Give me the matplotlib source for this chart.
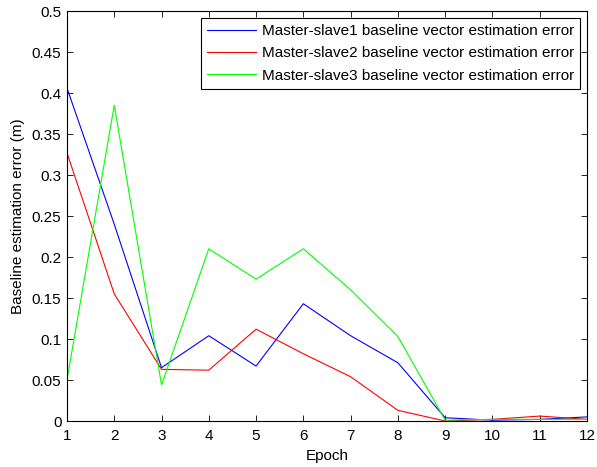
import matplotlib
matplotlib.use("Agg")
import matplotlib.pyplot as plt
import numpy as np

plt.rcParams['font.family'] = ['Liberation Sans', 'DejaVu Sans']

epochs = [1, 2, 3, 4, 5, 6, 7, 8, 9, 10, 11, 12]
slave1 = [0.406, 0.240, 0.065, 0.104, 0.067, 0.143, 0.104, 0.071, 0.004, 0.001, 0.002, 0.005]
slave2 = [0.327, 0.155, 0.063, 0.062, 0.112, 0.082, 0.054, 0.013, 0.000, 0.002, 0.006, 0.002]
slave3 = [0.050, 0.385, 0.044, 0.210, 0.173, 0.210, 0.160, 0.103, 0.001, 0.002, 0.002, 0.002]
labels = ['Master-slave1 baseline vector estimation error',
          'Master-slave2 baseline vector estimation error',
          'Master-slave3 baseline vector estimation error']
yticks = [0, 0.05, 0.1, 0.15, 0.2, 0.25, 0.3, 0.35, 0.4, 0.45, 0.5]
yticklabels = ['0', '0.05', '0.1', '0.15', '0.2', '0.25', '0.3', '0.35', '0.4', '0.45', '0.5']

fs = 11
fig = plt.figure(figsize=(5.97, 4.67), dpi=100)
ax = fig.add_axes([0.1122, 0.0985, 0.871, 0.8779])
ax.plot(epochs, slave1, color=(0, 0, 1), lw=0.8, label=labels[0])
ax.plot(epochs, slave2, color=(1, 0, 0), lw=0.8, label=labels[1])
ax.plot(epochs, slave3, color=(0, 1, 0), lw=0.8, label=labels[2])

ax.set_xlim(1, 12)
ax.set_ylim(0, 0.5)
ax.set_xticks(epochs)
ax.set_yticks(yticks)
ax.set_yticklabels(yticklabels)
ax.tick_params(direction='in', top=True, right=True, labelsize=fs, length=4, width=0.6, pad=4)
ax.tick_params(axis='x', pad=6)
for s in ax.spines.values():
    s.set_linewidth(0.8)
ax.set_xlabel('Epoch', fontsize=fs, labelpad=4)
ax.set_ylabel('Baseline estimation error (m)', fontsize=fs, labelpad=5)

leg = ax.legend(loc='upper right', fontsize=fs, frameon=True, fancybox=False,
                edgecolor='black', framealpha=1, borderpad=0.4, labelspacing=0.55,
                handlelength=3.15, handletextpad=0.4, borderaxespad=0.45)
leg.get_frame().set_linewidth(0.8)

fig.savefig('out.png', dpi=100)
